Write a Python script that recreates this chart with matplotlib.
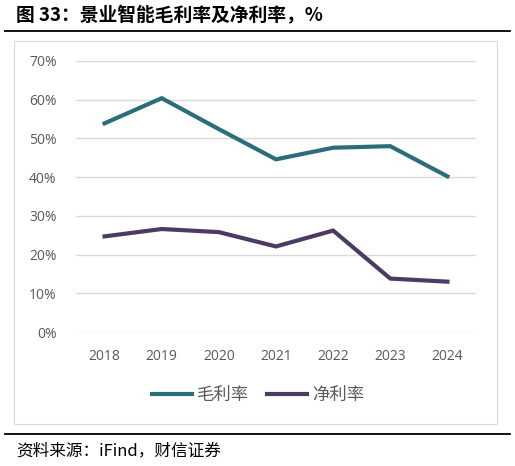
import matplotlib.pyplot as plt
from matplotlib.lines import Line2D
from matplotlib.patches import Rectangle

plt.rcParams['font.family'] = ['Noto Sans CJK SC', 'DejaVu Sans']

# data (%)
years = ['2018', '2019', '2020', '2021', '2022', '2023', '2024']
gross_margin = [53.9, 60.4, 52.4, 44.6, 47.6, 48.0, 40.2]
net_margin = [24.7, 26.6, 25.8, 22.1, 26.2, 13.8, 13.0]
yticks = [0, 10, 20, 30, 40, 50, 60, 70]

teal = '#2B6E7B'
purple = '#4B3B63'
grey_txt = '#595959'

W, H = 515, 466
fig = plt.figure(figsize=(W / 100, H / 100), dpi=100)

def fx(px):
    return px / W

def fy(py):
    return 1 - py / H

# title and rules
fig.text(fx(16), fy(16), '图 33：景业智能毛利率及净利率，%', fontsize=13.5,
         fontweight='bold', va='center', ha='left', color='black')
fig.add_artist(Line2D([fx(5), fx(510)], [fy(31), fy(31)], color='black', lw=1.3))
fig.add_artist(Line2D([fx(5), fx(510)], [fy(434), fy(434)], color='black', lw=1.3))
fig.add_artist(Rectangle((fx(14), fy(424)), fx(497) - fx(14), fy(41) - fy(424),
                         fill=False, edgecolor='#D9D9D9', lw=0.8))
fig.text(fx(16), fy(451), '资料来源：iFind，财信证券', fontsize=12, style='italic',
         va='center', ha='left', color='black')

# plot area
ax = fig.add_axes([fx(76), fy(332), fx(476) - fx(76), fy(61) - fy(332)])
x = range(len(years))
ax.plot(x, gross_margin, color=teal, lw=3, solid_joinstyle='miter', label='毛利率')
ax.plot(x, net_margin, color=purple, lw=3, solid_joinstyle='miter', label='净利率')

ax.set_xlim(-0.5, len(years) - 0.5)
ax.set_ylim(0, 70)
ax.set_yticks(yticks)
ax.set_yticklabels([f'{v}%' for v in yticks])
ax.set_xticks(list(x))
ax.set_xticklabels(years)
ax.yaxis.grid(True, color='#D9D9D9', lw=1)
ax.set_axisbelow(True)
for s in ax.spines.values():
    s.set_visible(False)
ax.tick_params(length=0, labelsize=10, labelcolor=grey_txt)
ax.tick_params(axis='y', pad=14)
ax.tick_params(axis='x', pad=12)
for lab in ax.get_xticklabels() + ax.get_yticklabels():
    lab.set_fontfamily(['Open Sans', 'DejaVu Sans'])

leg = ax.legend(loc='center', bbox_to_anchor=(fx(258), fy(395)), bbox_transform=fig.transFigure,
                ncol=2, frameon=False, fontsize=12.5, handlelength=2.3, columnspacing=1.0,
                handletextpad=0.3)
for t in leg.get_texts():
    t.set_color(grey_txt)

fig.savefig('out.png', dpi=100)
